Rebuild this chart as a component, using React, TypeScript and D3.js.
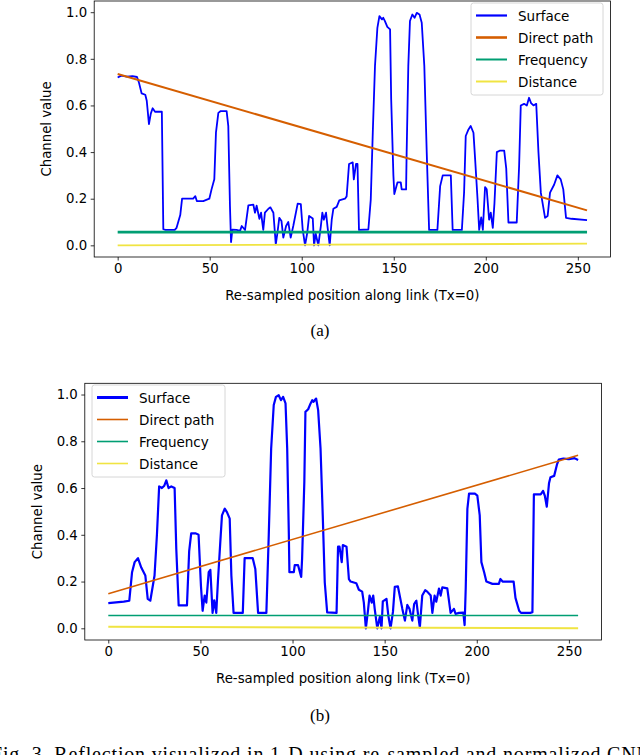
import React, {useEffect, useRef} from 'react';
import * as d3 from 'd3';

// x positions (re-sampled index) of the surface trace
const SURFACE_X = [
    0, 2, 5, 8, 10.5, 11.5, 13, 15, 15.8, 17, 18, 19, 20.3, 24, 24.8, 26, 31, 32, 34, 35,
    41, 42.2, 43, 46.5, 49.8, 51, 52.5, 53.4, 54.7, 56, 59.2, 60.1, 61, 61.6, 62.3, 64.6, 66.5, 67.4, 69.2, 71,
    73.7, 74.6, 75.5, 77, 77.9, 79.1, 80, 81.9, 83, 84.6, 85.9, 86.8, 87.8, 89, 90, 91.5, 92.7, 94, 95.4, 97.8,
    99.5, 100.5, 101.8, 103, 104, 106, 106.7, 107.6, 109, 110.4, 111.2, 112, 113.2, 114, 115.2, 116.3, 117.2, 119, 120.4, 123.5,
    124.4, 125.7, 127.7, 128.3, 129.5, 130.3, 131.1, 136.2, 137.5, 138.6, 139.8, 141.1, 142.2, 143.6, 144.3, 145.2, 146.5, 148, 148.6, 149.8,
    150.3, 152, 153.8, 154.3, 156.7, 157, 157.9, 158.8, 160.1, 161.3, 162.5, 164, 165.2, 166.6, 167.9, 169.2, 173.7, 175.2, 176.6, 181,
    182, 187, 188.2, 189.1, 190.6, 191.8, 193.3, 194.2, 195.5, 196.4, 197.5, 198.4, 199.6, 200.5, 201.8, 202.7, 203.8, 204.7, 206, 207.5,
    210, 211.1, 212.3, 216.8, 218.1, 219, 220.8, 222.3, 223.5, 224.6, 225.9, 227.4, 228.6, 229.9, 232.2, 233.6, 234.9, 237.1, 238.9, 240.7,
    242.1, 243.6, 246.6, 255
];

const SURFACE_A = [
    0.72, 0.728, 0.724, 0.726, 0.722, 0.70, 0.652, 0.646, 0.62, 0.52, 0.565, 0.588, 0.573, 0.573, 0.069, 0.066, 0.066, 0.075, 0.13, 0.2,
    0.2, 0.211, 0.19, 0.19, 0.2, 0.24, 0.283, 0.483, 0.568, 0.576, 0.576, 0.511, 0.171, 0.014, 0.067, 0.066, 0.062, 0.083, 0.066, 0.171,
    0.175, 0.14, 0.17, 0.114, 0.14, 0.066, 0.14, 0.157, 0.163, 0.14, 0.004, 0.054, 0.118, 0.104, 0.033, 0.083, 0.1, 0.033, 0.083, 0.179,
    0.177, 0.07, 0.0, 0.054, 0.126, 0.115, 0.0, 0.05, 0.0, 0.083, 0.14, 0.11, 0.14, 0.08, 0.0, 0.11, 0.157, 0.165, 0.193, 0.2,
    0.21, 0.349, 0.356, 0.283, 0.349, 0.349, 0.066, 0.068, 0.196, 0.483, 0.769, 0.933, 0.983, 0.969, 0.976, 0.962, 0.937, 0.926, 0.626, 0.30,
    0.22, 0.27, 0.27, 0.24, 0.24, 0.4, 0.769, 0.962, 0.99, 0.976, 0.997, 0.99, 0.955, 0.769, 0.4, 0.066, 0.066, 0.254, 0.3, 0.3,
    0.066, 0.066, 0.226, 0.469, 0.497, 0.512, 0.483, 0.37, 0.2, 0.066, 0.12, 0.066, 0.25, 0.24, 0.11, 0.14, 0.075, 0.18, 0.4, 0.406,
    0.406, 0.33, 0.098, 0.098, 0.34, 0.6, 0.607, 0.6, 0.633, 0.61, 0.6, 0.607, 0.4, 0.226, 0.118, 0.126, 0.226, 0.26, 0.3, 0.283,
    0.24, 0.118, 0.114, 0.108
];

// straight channels: values at the two ends of the link
const ENDS_X = [0, 255];
const DIRECT_A = [0.735, 0.15];
const DIRECT_B = [0.148, 0.74];
const FREQUENCY_A = [0.057, 0.057];
const FREQUENCY_B = [0.055, 0.055];
const DISTANCE_A = [0.0, 0.007];
const DISTANCE_B = [0.007, 0.0];

const X_TICKS = [0, 50, 100, 150, 200, 250];
const Y_TICKS = [0, 0.2, 0.4, 0.6, 0.8, 1.0];
const SERIES_NAMES = ['Surface', 'Direct path', 'Frequency', 'Distance'];
const COLORS = ['#0000ff', '#d55e00', '#009e73', '#f0e442'];

const FONT = 'DejaVu Sans, sans-serif';

function drawPanel(root, p) {
    const g = root.append('g');
    const x = d3.scaleLinear().domain([-12.75, 267.75]).range([p.left, p.right]);
    const y = d3.scaleLinear().domain([-0.05, 1.048]).range([p.bottom, p.top]);

    const line = d3.line()
        .x(d => x(d[0]))
        .y(d => y(d[1]));

    const straight = vals => ENDS_X.map((e, i) => [e, vals[i]]);

    g.append('path')
        .datum(p.surfaceX.map((e, i) => [e, p.surface[i]]))
        .attr('fill', 'none')
        .attr('stroke', COLORS[0])
        .attr('stroke-width', p.widths[0])
        .attr('stroke-linejoin', 'round')
        .attr('d', line);

    [p.direct, p.frequency, p.distance].forEach((vals, i) => {
        g.append('path')
            .datum(straight(vals))
            .attr('fill', 'none')
            .attr('stroke', COLORS[i + 1])
            .attr('stroke-width', p.widths[i + 1])
            .attr('d', line);
    });

    g.append('g')
        .attr('transform', `translate(0,${p.bottom})`)
        .call(d3.axisBottom(x).tickValues(X_TICKS).tickSize(3.5).tickPadding(3.5).tickFormat(d3.format('d')))
        .call(a => a.select('.domain').remove())
        .call(a => a.selectAll('line').attr('stroke-width', 0.8))
        .call(a => a.selectAll('text').attr('font-family', FONT).attr('font-size', 13.3).attr('fill', '#000'));

    g.append('g')
        .attr('transform', `translate(${p.left},0)`)
        .call(d3.axisLeft(y).tickValues(Y_TICKS).tickSize(3.5).tickPadding(3.5).tickFormat(d3.format('.1f')))
        .call(a => a.select('.domain').remove())
        .call(a => a.selectAll('line').attr('stroke-width', 0.8))
        .call(a => a.selectAll('text').attr('font-family', FONT).attr('font-size', 13.3).attr('fill', '#000'));

    g.append('rect')
        .attr('x', p.left)
        .attr('y', p.top)
        .attr('width', p.right - p.left)
        .attr('height', p.bottom - p.top)
        .attr('fill', 'none')
        .attr('stroke', '#000')
        .attr('stroke-width', 0.8);

    g.append('text')
        .attr('x', (p.left + p.right) / 2)
        .attr('y', p.bottom + 43)
        .attr('text-anchor', 'middle')
        .attr('font-family', FONT)
        .attr('font-size', 13.3)
        .text('Re-sampled position along link (Tx=0)');

    g.append('text')
        .attr('transform', `translate(${p.ylabelX},${(p.top + p.bottom) / 2}) rotate(-90)`)
        .attr('text-anchor', 'middle')
        .attr('font-family', FONT)
        .attr('font-size', 13.3)
        .text('Channel value');

    // legend
    const lg = g.append('g').attr('transform', `translate(${p.legend.x},${p.legend.y})`);
    lg.append('rect')
        .attr('width', p.legend.w)
        .attr('height', p.legend.h)
        .attr('rx', 2.5)
        .attr('fill', 'white')
        .attr('fill-opacity', 0.8)
        .attr('stroke', '#cccccc')
        .attr('stroke-width', 0.8);

    SERIES_NAMES.forEach((name, i) => {
        const cy = 12.5 + i * 22;
        lg.append('line')
            .attr('x1', 5)
            .attr('x2', 36)
            .attr('y1', cy)
            .attr('y2', cy)
            .attr('stroke', COLORS[i])
            .attr('stroke-width', p.legendWidths[i]);
        lg.append('text')
            .attr('x', 47)
            .attr('y', cy + 5)
            .attr('font-family', FONT)
            .attr('font-size', 13.5)
            .text(name);
    });

    root.append('text')
        .attr('x', 320)
        .attr('y', p.captionY)
        .attr('text-anchor', 'middle')
        .attr('font-family', 'Liberation Serif, Times New Roman, serif')
        .attr('font-size', 17)
        .text(p.caption);
}

export default function App() {
    const svgRef = useRef(null);

    useEffect(() => {
        const root = d3.select(svgRef.current);
        root.selectAll('*').remove();

        root.append('rect').attr('width', 640).attr('height', 755).attr('fill', 'white');

        drawPanel(root, {
            left: 94.2, right: 610.5, top: 1, bottom: 257,
            surfaceX: SURFACE_X, surface: SURFACE_A,
            direct: DIRECT_A, frequency: FREQUENCY_A, distance: DISTANCE_A,
            widths: [1.8, 2, 2.8, 1.8],
            legendWidths: [2.2, 2.6, 2, 2],
            legend: {x: 471, y: 3, w: 132, h: 92},
            ylabelX: 51,
            caption: '(a)', captionY: 336
        });

        // panel (b): same link traversed from the other end
        drawPanel(root, {
            left: 84.8, right: 601.6, top: 383.3, bottom: 640,
            surfaceX: SURFACE_X.map(v => 255 - v), surface: SURFACE_A,
            direct: DIRECT_B, frequency: FREQUENCY_B, distance: DISTANCE_B,
            widths: [2.2, 1.6, 1.6, 2],
            legendWidths: [3, 1.6, 1.6, 1.6],
            legend: {x: 92, y: 385, w: 133, h: 92},
            ylabelX: 42,
            caption: '(b)', captionY: 721
        });

        root.append('text')
            .attr('x', -9)
            .attr('y', 760.5)
            .attr('font-family', 'Liberation Serif, Times New Roman, serif')
            .attr('font-size', 20)
            .attr('textLength', 660)
            .text('Fig. 3.  Reflection visualized in 1-D using re-sampled and normalized CNN');
    }, []);

    return (
        <svg ref={svgRef} width={640} height={755}
             style={{position: 'absolute', left: 0, top: 0, display: 'block'}}/>
    );
}
